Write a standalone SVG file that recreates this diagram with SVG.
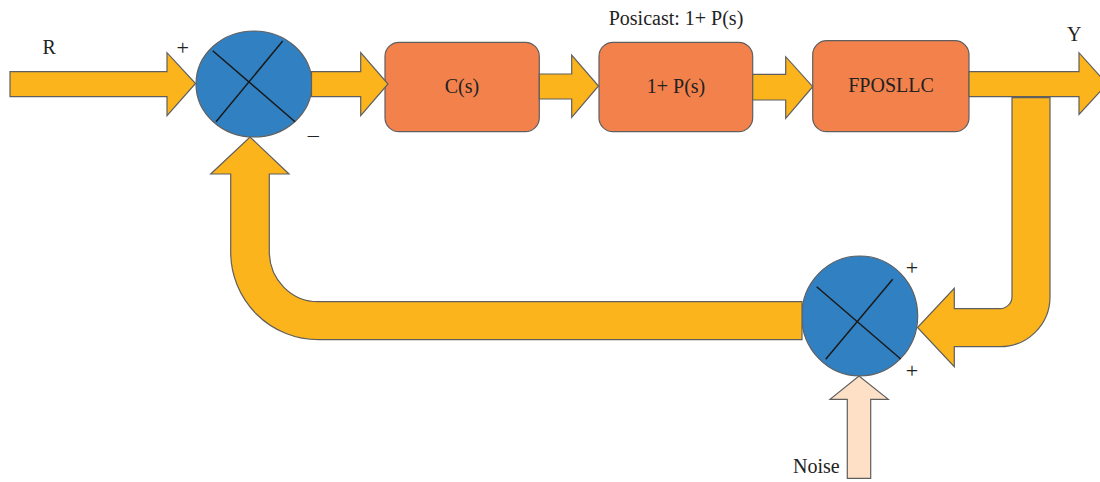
<svg xmlns="http://www.w3.org/2000/svg" width="1100" height="482" viewBox="0 0 1100 482">
<style>
.arr{fill:#FBB41B;stroke:#5F5F5F;stroke-width:1.2;stroke-linejoin:miter}
.noise{fill:#FDE0C6;stroke:#5F5F5F;stroke-width:1.2}
.sum{fill:#3180C2;stroke:#5F5F5F;stroke-width:1.2}
.x{stroke:#1A1A1A;stroke-width:1.5}
.box{fill:#F3814C;stroke:#5F5F5F;stroke-width:1.2}
text{font-family:"Liberation Serif","Times New Roman",serif;fill:#222;font-size:20px}
.sg{font-size:22px}
.c{text-anchor:middle}
</style>
<rect width="1100" height="482" fill="#fff"/>
<g id="sum1">
  <ellipse class="sum" cx="254" cy="84" rx="58" ry="53"/>
  <line class="x" x1="212.7" y1="50.7" x2="295" y2="121.7"/>
  <line class="x" x1="282.7" y1="41" x2="216" y2="121.7"/>
</g>
<g id="sum2">
  <ellipse class="sum" cx="859.7" cy="316" rx="58" ry="60"/>
  <line class="x" x1="816.7" y1="286.7" x2="900.7" y2="359"/>
  <line class="x" x1="892.7" y1="279.3" x2="825.7" y2="359.3"/>
</g>
<g id="cs">
  <rect class="box" x="385" y="42.3" width="154.3" height="89.4" rx="14"/>
  <text class="c" x="462" y="93">C(s)</text>
</g>
<g id="posicast">
  <rect class="box" x="599" y="42.3" width="153.7" height="89.4" rx="14"/>
  <text class="c" x="676" y="93">1+ P(s)</text>
</g>
<g id="fposllc">
  <rect class="box" x="812.7" y="40.7" width="156.3" height="91" rx="14"/>
  <text class="c" x="891" y="92">FPOSLLC</text>
</g>
<g id="connectors">
  <path class="arr" d="M10,71.7 H167 V52.7 L195.5,83.5 L167,115.7 V96.7 H10 Z"/>
  <path class="arr" d="M311.5,71.7 H360.7 V52.7 L388,84 L360.7,115.7 V96.7 H311.5 Z"/>
  <path class="arr" d="M539.3,74 H571.7 V55 L598.5,86 L571.7,117.3 V99 H539.3 Z"/>
  <path class="arr" d="M752.7,74.3 H785.7 V56.7 L812.7,86.7 L785.7,118.3 V100 H752.7 Z"/>
  <path class="arr" d="M969,71.7 H1079 V52.7 L1107,84 L1079,114.5 V96.7 H969 Z"/>
  <path class="arr" d="M1012,97.7 V296.7 A12,12 0 0 1 1000,308.7 H954.3 V288.3 L917.5,327.5 L954.3,366.7 V346.7 H1000 A50,50 0 0 0 1050,296.7 V97.7 Z"/>
  <path class="arr" d="M802,301.7 H318.3 A49,50 0 0 1 269.3,251.7 V174 H289 L250,137 L210.7,174 H230.7 V252 A87.6,87.7 0 0 0 318.3,339.7 H802 Z"/>
  <path class="noise" d="M847.3,478.3 V399.3 H830 L859,376 L888.3,399.3 H870.7 V478.3 Z"/>
</g>
<g id="labels">
  <text x="42.5" y="54">R</text>
  <text x="1067" y="41">Y</text>
  <text class="c" x="676" y="25">Posicast: 1+ P(s)</text>
  <text x="793" y="473">Noise</text>
  <text class="sg c" x="182.7" y="55">+</text>
  <text class="sg c" x="313.3" y="142">–</text>
  <text class="sg c" x="912" y="275">+</text>
  <text class="sg c" x="912" y="378">+</text>
</g>
</svg>
